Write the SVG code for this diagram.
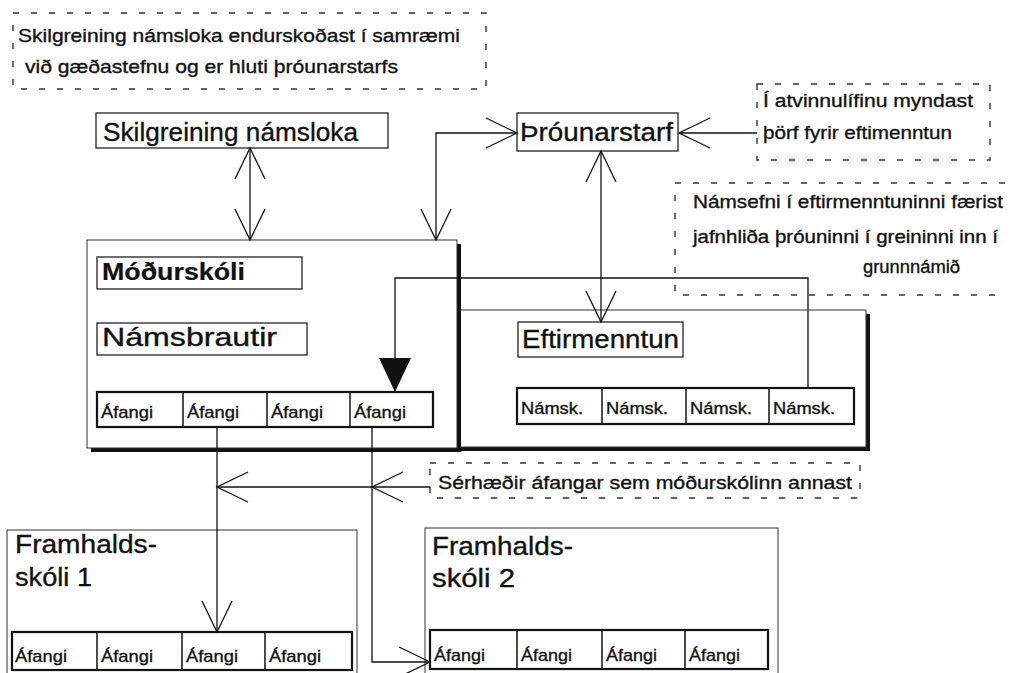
<svg xmlns="http://www.w3.org/2000/svg" width="1017" height="673" viewBox="0 0 1017 673">
<defs>
<style>
.t{font-family:"Liberation Sans",Arial,Helvetica,sans-serif;fill:#111;stroke:#111;stroke-width:0.35}
.big{font-size:26px}
.note{font-size:19px}
.cell{font-size:17px}
.bold{font-weight:bold;stroke-width:0.2}
.box{fill:#fff;stroke:#222;stroke-width:1.3}
.frame{fill:#fff;stroke:#333;stroke-width:1}
.row{fill:#fff;stroke:#111;stroke-width:2.2}
.div{stroke:#111;stroke-width:1.5}
.dash{fill:none;stroke:#333;stroke-width:1.4;stroke-dasharray:6 12}
.shadow{fill:#111}
.con{fill:none;stroke:#111;stroke-width:1.3}
</style>
<marker id="open" viewBox="-33 -17 35 34" markerWidth="35" markerHeight="34" refX="0" refY="0" orient="auto-start-reverse" markerUnits="userSpaceOnUse" overflow="visible">
<path d="M-31,-15 L0,0 L-31,15" fill="none" stroke="#111" stroke-width="1.3"/>
</marker>
<marker id="solid" viewBox="-36 -18 37 36" markerWidth="37" markerHeight="36" refX="0" refY="0" orient="auto" markerUnits="userSpaceOnUse" overflow="visible">
<path d="M-34,-16 L0,0 L-34,16 Z" fill="#111"/>
</marker>
</defs>
<rect width="1017" height="673" fill="#fff"/>

<g id="note-top-left">
<rect class="dash" x="13" y="13" width="473" height="76"/>
<text class="t note" x="18" y="42" font-size="20" textLength="442" lengthAdjust="spacingAndGlyphs">Skilgreining námsloka endurskoðast í samræmi</text>
<text class="t note" x="25" y="73" font-size="20" textLength="373" lengthAdjust="spacingAndGlyphs">við gæðastefnu og er hluti þróunarstarfs</text>
</g>

<g id="note-atvinnulif">
<rect class="dash" x="757" y="84" width="233" height="76"/>
<text class="t note" x="763" y="107" textLength="210" lengthAdjust="spacingAndGlyphs">Í atvinnulífinu myndast</text>
<text class="t note" x="763" y="139" textLength="189" lengthAdjust="spacingAndGlyphs">þörf fyrir eftimenntun</text>
</g>

<g id="note-namsefni">
<path class="dash" d="M1005,183 L675,183 L675,295 L1005,295"/>
<text class="t note" x="693" y="208" textLength="310" lengthAdjust="spacingAndGlyphs">Námsefni í eftirmenntuninni færist</text>
<text class="t note" x="693" y="243" textLength="305" lengthAdjust="spacingAndGlyphs">jafnhliða þróuninni í greininni inn í</text>
<text class="t note" x="863" y="273" textLength="97" lengthAdjust="spacingAndGlyphs">grunnnámið</text>
</g>

<g id="note-serhaedir">
<rect class="dash" x="430" y="463" width="430" height="35"/>
<text class="t note" x="438" y="489" textLength="414" lengthAdjust="spacingAndGlyphs">Sérhæðir áfangar sem móðurskólinn annast</text>
</g>

<g id="skilgreining">
<rect class="box" x="96" y="113" width="292" height="35"/>
<text class="t big" x="103" y="141" textLength="255" lengthAdjust="spacingAndGlyphs">Skilgreining námsloka</text>
</g>

<g id="throunarstarf">
<rect class="box" x="517" y="113" width="161" height="38"/>
<text class="t big" x="520" y="141" textLength="153" lengthAdjust="spacingAndGlyphs">Þróunarstarf</text>
</g>

<g id="eftirmenntun-frame">
<rect class="shadow" x="304" y="314" width="566" height="137"/>
<rect class="frame" x="300" y="310" width="566" height="137"/>
</g>

<g id="modurskoli-frame">
<rect class="shadow" x="91" y="244" width="370" height="208"/>
<rect class="frame" x="87" y="240" width="370" height="208"/>
</g>

<g id="modurskoli">
<rect class="box" x="97" y="257" width="205" height="32"/>
<text class="t bold" x="102" y="280" font-size="23" textLength="143" lengthAdjust="spacingAndGlyphs">Móðurskóli</text>
</g>

<g id="namsbrautir">
<rect class="box" x="97" y="323" width="210" height="32"/>
<text class="t big" x="102" y="346" textLength="175" lengthAdjust="spacingAndGlyphs">Námsbrautir</text>
</g>

<g id="modurskoli-afangar">
<rect class="row" x="97" y="392" width="336" height="35"/>
<line class="div" x1="183" y1="392" x2="183" y2="427"/>
<line class="div" x1="267" y1="392" x2="267" y2="427"/>
<line class="div" x1="350" y1="392" x2="350" y2="427"/>
<text class="t cell" x="101" y="418" textLength="52" lengthAdjust="spacingAndGlyphs">Áfangi</text>
<text class="t cell" x="187" y="418" textLength="52" lengthAdjust="spacingAndGlyphs">Áfangi</text>
<text class="t cell" x="271" y="418" textLength="52" lengthAdjust="spacingAndGlyphs">Áfangi</text>
<text class="t cell" x="354" y="418" textLength="52" lengthAdjust="spacingAndGlyphs">Áfangi</text>
</g>

<g id="eftirmenntun">
<rect class="box" x="518" y="322" width="165" height="35"/>
<text class="t big" x="522" y="348" textLength="157" lengthAdjust="spacingAndGlyphs">Eftirmenntun</text>
</g>

<g id="namskeid">
<rect class="row" x="517" y="388" width="337" height="36"/>
<line class="div" x1="602" y1="388" x2="602" y2="424"/>
<line class="div" x1="686" y1="388" x2="686" y2="424"/>
<line class="div" x1="769" y1="388" x2="769" y2="424"/>
<text class="t cell" x="521" y="414" textLength="62" lengthAdjust="spacingAndGlyphs" stroke-width="0.6">Námsk.</text>
<text class="t cell" x="606" y="414" textLength="62" lengthAdjust="spacingAndGlyphs" stroke-width="0.6">Námsk.</text>
<text class="t cell" x="690" y="414" textLength="62" lengthAdjust="spacingAndGlyphs" stroke-width="0.6">Námsk.</text>
<text class="t cell" x="773" y="414" textLength="62" lengthAdjust="spacingAndGlyphs" stroke-width="0.6">Námsk.</text>
</g>

<g id="framhaldsskoli-1">
<rect class="frame" x="7" y="530" width="350" height="160"/>
<text class="t big" x="15" y="553" textLength="142" lengthAdjust="spacingAndGlyphs">Framhalds-</text>
<text class="t big" x="15" y="586" textLength="77" lengthAdjust="spacingAndGlyphs">skóli 1</text>
<rect class="row" x="12" y="632" width="340" height="38"/>
<line class="div" x1="97" y1="632" x2="97" y2="670"/>
<line class="div" x1="182" y1="632" x2="182" y2="670"/>
<line class="div" x1="265" y1="632" x2="265" y2="670"/>
<text class="t cell" x="15" y="662" textLength="52" lengthAdjust="spacingAndGlyphs">Áfangi</text>
<text class="t cell" x="101" y="662" textLength="52" lengthAdjust="spacingAndGlyphs">Áfangi</text>
<text class="t cell" x="186" y="662" textLength="52" lengthAdjust="spacingAndGlyphs">Áfangi</text>
<text class="t cell" x="269" y="662" textLength="52" lengthAdjust="spacingAndGlyphs">Áfangi</text>
</g>

<g id="framhaldsskoli-2">
<rect class="frame" x="425" y="528" width="353" height="160"/>
<text class="t big" x="432" y="555" textLength="141" lengthAdjust="spacingAndGlyphs">Framhalds-</text>
<text class="t big" x="432" y="587" textLength="83" lengthAdjust="spacingAndGlyphs">skóli 2</text>
<rect class="row" x="430" y="630" width="338" height="39"/>
<line class="div" x1="517" y1="630" x2="517" y2="669"/>
<line class="div" x1="602" y1="630" x2="602" y2="669"/>
<line class="div" x1="685" y1="630" x2="685" y2="669"/>
<text class="t cell" x="434" y="661" textLength="51" lengthAdjust="spacingAndGlyphs">Áfangi</text>
<text class="t cell" x="521" y="661" textLength="51" lengthAdjust="spacingAndGlyphs">Áfangi</text>
<text class="t cell" x="606" y="661" textLength="51" lengthAdjust="spacingAndGlyphs">Áfangi</text>
<text class="t cell" x="689" y="661" textLength="51" lengthAdjust="spacingAndGlyphs">Áfangi</text>
</g>

<g id="connectors">
<path class="con" d="M250,148 L250,240" marker-start="url(#open)" marker-end="url(#open)"/>
<path class="con" d="M436,240 L436,133 L517,133" marker-start="url(#open)" marker-end="url(#open)"/>
<path class="con" d="M757,133 L679,133" marker-end="url(#open)"/>
<path class="con" d="M601,151 L601,322" marker-start="url(#open)" marker-end="url(#open)"/>
<path class="con" d="M808,388 L808,278 L395,278 L395,392" marker-end="url(#solid)"/>
<path class="con" d="M217,427 L217,632" marker-end="url(#open)"/>
<path class="con" d="M430,487 L372,487" marker-end="url(#open)"/>
<path class="con" d="M372,487 L217,487" marker-end="url(#open)"/>
<path class="con" d="M372,427 L372,662 L430,662" marker-end="url(#open)"/>
</g>
</svg>
